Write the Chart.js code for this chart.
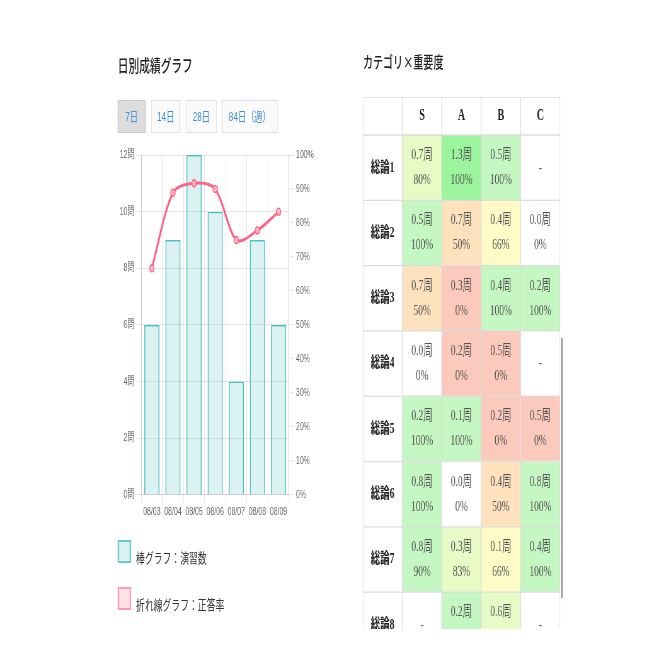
<!DOCTYPE html>
<html lang="ja">
<head>
<meta charset="utf-8">
<title>日別成績グラフ</title>
<script src="https://cdn.jsdelivr.net/npm/chart.js@4.4.0/dist/chart.umd.min.js"></script>
<style>
  html, body { margin: 0; padding: 0; background: #fff; overflow: hidden; }
  /* the whole page is drawn wide and then squeezed horizontally, like the reference */
  #page { position: absolute; left: 0; top: 0; width: 1063px; height: 670px;
          transform: scaleX(0.63); transform-origin: 0 0;
          font-family: "Noto Sans CJK JP", sans-serif; color: #222; }
  .title { position: absolute; margin: 0; font-size: 17px; font-weight: 500; line-height: 20px; }
  .btn { position: absolute; top: 100px; height: 33px; box-sizing: border-box;
         border: 1px solid #ddd; background: #fafafa; color: #3d8fd6;
         font: 13px "Liberation Sans", "Noto Sans CJK JP", sans-serif; line-height: 31px; text-align: center; }
  .btn.on { background: #ddd; border-color: #ccc; }
  canvas { position: absolute; }
  .legend-item { position: absolute; left: 187px; height: 24px; }
  .legend-item i { position: absolute; left: 0; top: 0; width: 21px; height: 23px; box-sizing: border-box; border: 2px solid; }
  .legend-item span { position: absolute; left: 29px; top: 8px; white-space: nowrap; font-size: 14px; line-height: 18px; color: #333; }
  #scroll { position: absolute; left: 891px; top: 338px; width: 2px; height: 260px; background: #777; }
</style>
</head>
<body>
<div id="page">
  <h2 class="title" style="left:187px; top:55px;">日別成績グラフ</h2>
  <div class="btn on" style="left:187px; width:44px;">7日</div>
  <div class="btn" style="left:240px; width:46px;">14日</div>
  <div class="btn" style="left:295px; width:49px;">28日</div>
  <div class="btn" style="left:352px; width:89px;">84日（週）</div>
  <canvas id="daily" width="314" height="377" style="left:187px; top:145px;"></canvas>
  <div id="legend"></div>

  <h2 class="title" style="left:576px; top:51px; font-size:16px;">カテゴリ×重要度</h2>
  <canvas id="matrix" width="313" height="532" style="left:576px; top:97px;"></canvas>
  <div id="scroll"></div>
</div>
<script>
// daily chart data
var days = ['08/03', '08/04', '08/05', '08/06', '08/07', '08/08', '08/09'];
var exercises = [6, 9, 12, 10, 4, 9, 6];
var correctRate = [66.7, 88.9, 91.7, 90, 75, 77.8, 83.3];

// category x importance table data
var levels = ['S', 'A', 'B', 'C'];
var topics = ['総論1', '総論2', '総論3', '総論4', '総論5', '総論6', '総論7', '総論8'];
var laps = [
  [0.7, 1.3, 0.5, null],
  [0.5, 0.7, 0.4, 0.0],
  [0.7, 0.3, 0.4, 0.2],
  [0.0, 0.2, 0.5, null],
  [0.2, 0.1, 0.2, 0.5],
  [0.8, 0.0, 0.4, 0.8],
  [0.8, 0.3, 0.1, 0.4],
  [null, 0.2, 0.6, null]
];
var rates = [
  [80, 100, 100, null],
  [100, 50, 66, 0],
  [50, 0, 100, 100],
  [0, 0, 0, null],
  [100, 100, 0, 0],
  [100, 0, 50, 100],
  [90, 83, 66, 100],
  [null, 100, 80, null]
];

Chart.defaults.font.family = "'Liberation Sans', 'Noto Sans CJK JP', sans-serif";
Chart.defaults.font.size = 11;
Chart.defaults.color = '#666';

var dailyChart = new Chart(document.getElementById('daily'), {
  type: 'bar',
  data: {
    labels: days,
    datasets: [{
      type: 'line',
      label: '折れ線グラフ：正答率',
      data: correctRate,
      yAxisID: 'rate',
      borderColor: 'rgb(255, 99, 132)',
      backgroundColor: 'rgba(255, 99, 132, 0.2)',
      borderWidth: 3,
      pointRadius: 3.5,
      pointBorderWidth: 1.5,
      pointBackgroundColor: 'rgba(255, 190, 205, 0.8)',
      tension: 0.3,
      order: 0
    }, {
      label: '棒グラフ：演習数',
      data: exercises,
      yAxisID: 'count',
      backgroundColor: 'rgba(75, 192, 192, 0.2)',
      borderColor: 'rgb(75, 192, 192)',
      borderWidth: 1.5,
      order: 1
    }]
  },
  options: {
    responsive: false,
    animation: false,
    layout: { padding: { left: 0, top: 10 } },
    plugins: { legend: { display: false }, tooltip: { enabled: false } },
    scales: {
      x: { ticks: { maxRotation: 0, autoSkip: false } },
      count: {
        position: 'left', min: 0, max: 12,
        ticks: { stepSize: 2, callback: function (v) { return v + '問'; } }
      },
      rate: {
        position: 'right', min: 0, max: 100,
        grid: { drawOnChartArea: false },
        ticks: { stepSize: 10, callback: function (v) { return v + '%'; } }
      }
    }
  }
});

// html legend, bar first
var legendBox = document.getElementById('legend');
dailyChart.data.datasets.slice().sort(function (a, b) { return b.order - a.order; }).forEach(function (ds, i) {
  var item = document.createElement('div');
  item.className = 'legend-item';
  item.style.top = (540 + i * 47) + 'px';
  item.innerHTML = '<i></i><span></span>';
  item.firstChild.style.background = ds.backgroundColor;
  item.firstChild.style.borderColor = ds.type === 'line' ? 'rgba(255, 99, 132, 0.55)' : 'rgba(75, 192, 192, 0.8)';
  item.lastChild.textContent = ds.label;
  legendBox.appendChild(item);
});

function cellColor(rate, lap) {
  if (lap == null || (lap === 0 && rate === 0)) return '#ffffff';
  if (rate >= 90) return lap >= 1 ? '#9cf59c' : '#c4f7c2';
  if (rate >= 80) return '#e6fbc6';
  if (rate >= 60) return '#fffbc6';
  if (rate >= 50) return '#fde2bd';
  return '#fbcabc';
}

// header row is shorter than the others (38px vs 65.3px)
var HEAD = 38 / 65.3;

var cellText = {
  id: 'cellText',
  afterDatasetsDraw: function (chart) {
    var ctx = chart.ctx;
    ctx.save();
    ctx.textAlign = 'center';
    ctx.textBaseline = 'middle';
    chart.data.datasets.forEach(function (ds, d) {
      chart.getDatasetMeta(d).data.forEach(function (el, j) {
        var cx = el.x, cy = (el.y + el.base) / 2;
        if (d === 0) {
          if (j > 0) {
            ctx.font = 'bold 16px "Liberation Serif", serif';
            ctx.fillStyle = '#222';
            ctx.fillText(levels[j - 1], cx, cy);
          }
          return;
        }
        var r = d - 1;
        if (j === 0) {
          ctx.font = 'bold 15px "Liberation Serif", "Noto Sans CJK JP", serif';
          ctx.fillStyle = '#222';
          ctx.fillText(topics[r], cx, cy);
          return;
        }
        var lap = laps[r][j - 1], rate = rates[r][j - 1];
        ctx.font = '15px "Liberation Serif", "Noto Sans CJK JP", serif';
        ctx.fillStyle = '#555';
        if (lap == null) {
          ctx.fillText('-', cx, cy);
          return;
        }
        ctx.fillText(lap.toFixed(1) + '周', cx, cy - 12.5);
        ctx.fillText(rate + '%', cx, cy + 12.5);
      });
    });
    ctx.restore();
  }
};

var rowSets = [{ data: levels.concat(['']).map(function () { return HEAD; }), backgroundColor: '#ffffff' }];
topics.forEach(function (t, i) {
  rowSets.push({
    data: levels.concat(['']).map(function () { return 1; }),
    backgroundColor: ['#ffffff'].concat(levels.map(function (l, j) { return cellColor(rates[i][j], laps[i][j]); }))
  });
});

var matrixChart = new Chart(document.getElementById('matrix'), {
  type: 'bar',
  data: { labels: [''].concat(levels), datasets: rowSets },
  options: {
    responsive: false,
    animation: false,
    layout: { padding: 0 },
    plugins: { legend: { display: false }, tooltip: { enabled: false } },
    datasets: {
      bar: { categoryPercentage: 1, barPercentage: 1, borderColor: '#dddddd', borderWidth: 1, borderSkipped: false }
    },
    scales: {
      x: { display: false, stacked: true },
      y: { display: false, stacked: true, reverse: true, min: 0, max: HEAD + (532 - 38) / 65.3 }
    }
  },
  plugins: [cellText]
});
</script>
</body>
</html>
